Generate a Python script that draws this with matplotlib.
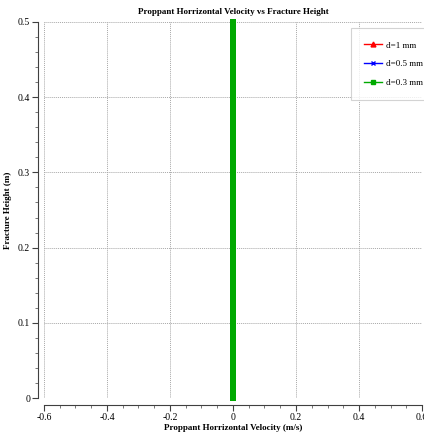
import matplotlib
matplotlib.use("Agg")
import matplotlib.pyplot as plt
from matplotlib.lines import Line2D
from matplotlib.ticker import MultipleLocator, FuncFormatter

plt.rcParams['font.family'] = ['Liberation Serif', 'DejaVu Serif']

# Fracture height samples (m) and horizontal proppant velocity (m/s) per diameter
heights = [0.0, 0.05, 0.1, 0.15, 0.2, 0.25, 0.3, 0.35, 0.4, 0.45, 0.5]
vel_d1 = [0.0, 0.0, 0.0, 0.0, 0.0, 0.0, 0.0, 0.0, 0.0, 0.0, 0.0]
vel_d05 = [0.0, 0.0, 0.0, 0.0, 0.0, 0.0, 0.0, 0.0, 0.0, 0.0, 0.0]
vel_d03 = [0.0, 0.0, 0.0, 0.0, 0.0, 0.0, 0.0, 0.0, 0.0, 0.0, 0.0]
labels = ["d=1 mm", "d=0.5 mm", "d=0.3 mm"]
colors = ["#ff0000", "#0000ff", "#00aa00"]
markers = ["^", "x", "s"]

fig = plt.figure(figsize=(4.24, 4.34), dpi=100)
ax = fig.add_axes([44 / 424, 36 / 434, (422 - 44) / 424, (398 - 22) / 434])

for vel, c, m in zip([vel_d1, vel_d05, vel_d03], colors, markers):
    ax.plot(vel, heights, color=c, lw=4.3, marker=m, ms=2.5, mew=0.5,
            solid_capstyle='projecting', clip_on=False)

ax.set_xlim(-0.6, 0.6)
ax.set_ylim(0, 0.5)
ax.xaxis.set_major_locator(MultipleLocator(0.2))
ax.xaxis.set_minor_locator(MultipleLocator(0.05))
ax.yaxis.set_major_locator(MultipleLocator(0.1))
ax.yaxis.set_minor_locator(MultipleLocator(0.02))
ax.xaxis.set_major_formatter(FuncFormatter(lambda v, p: f"{v:g}"))
ax.yaxis.set_major_formatter(FuncFormatter(lambda v, p: f"{v:g}"))

ax.grid(True, which='major', color='#a8a8a8', ls=(0, (1, 1)), lw=0.7)
ax.set_axisbelow(True)

for s in ['top', 'right']:
    ax.spines[s].set_visible(False)
ax.spines['left'].set_position(('outward', 4))
ax.spines['bottom'].set_position(('outward', 5))
for s in ['left', 'bottom']:
    ax.spines[s].set_linewidth(0.8)
    ax.spines[s].set_color('#404040')

ax.tick_params(which='major', direction='out', length=4, width=0.8, labelsize=7, pad=2, color='#404040')
ax.tick_params(which='minor', direction='out', length=2.5, width=0.6, color='#606060')

ax.set_title("Proppant Horrizontal Velocity vs Fracture Height", fontsize=6.5, fontweight='bold', pad=6)
ax.set_xlabel("Proppant Horrizontal Velocity (m/s)", fontsize=6.5, fontweight='bold', labelpad=1)
ax.set_ylabel("Fracture Height (m)", fontsize=6.5, fontweight='bold', labelpad=4)

handles = [Line2D([], [], color=c, lw=1, marker=m, ms=3.5) for c, m in zip(colors, markers)]
leg = ax.legend(handles, labels, loc='upper left', bbox_to_anchor=(0.812, 0.985),
                fontsize=6.5, frameon=True, fancybox=False, handlelength=1.9,
                handletextpad=0.45, borderpad=1.5, labelspacing=1.15, borderaxespad=0)
leg.get_frame().set_edgecolor('#c8c8c8')
leg.get_frame().set_linewidth(0.8)

fig.savefig("out.png", dpi=100)
